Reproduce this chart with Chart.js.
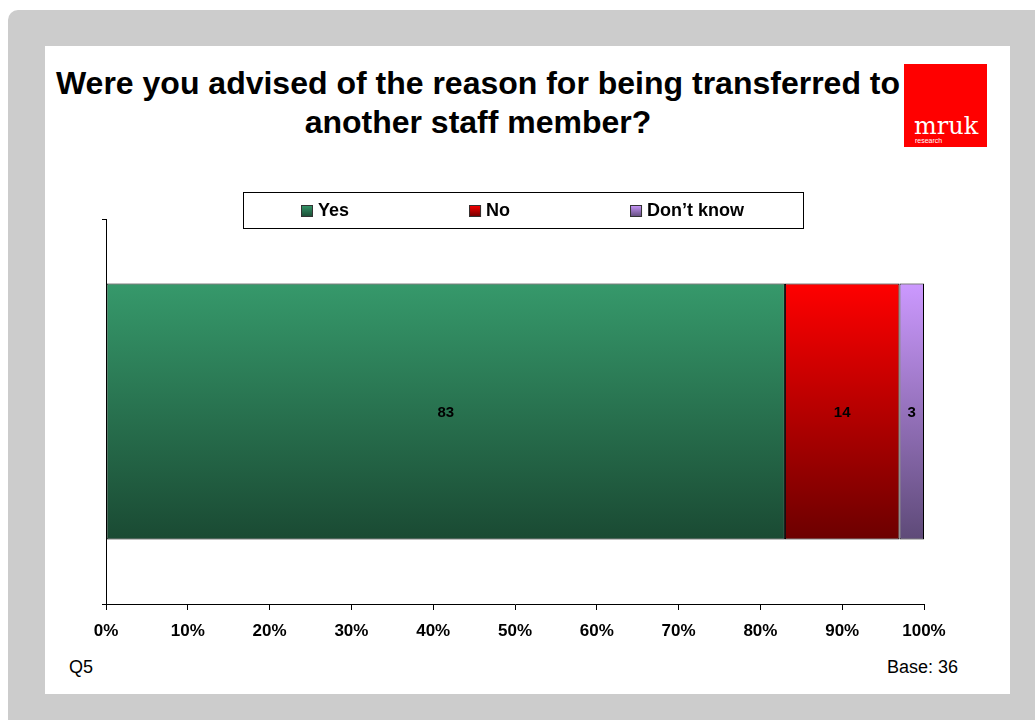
<!DOCTYPE html>
<html>
<head>
<meta charset="utf-8">
<script src="https://cdn.jsdelivr.net/npm/chart.js@4.4.1/dist/chart.umd.min.js"></script>
<style>
    html, body { margin: 0; padding: 0; background: #fff; width: 1035px; height: 720px; overflow: hidden; }
    body { position: relative; font-family: Arial, "Liberation Sans", sans-serif; }
    .frame { position: absolute; left: 8px; top: 10px; width: 1100px; height: 800px; background: #cccccc; border-top-left-radius: 10px; }
    .panel { position: absolute; left: 45px; top: 46px; width: 965px; height: 648px; background: #fff; }
    .title { position: absolute; left: 0; top: 64px; width: 956px; text-align: center; font-weight: bold; font-size: 32px; line-height: 39px; color: #000; }
    .logo { position: absolute; left: 904px; top: 64px; width: 83px; height: 83px; background: #ff0000; color: #fff; }
    .logo .name { position: absolute; left: 10px; top: 50px; font-family: "DejaVu Serif", "Liberation Serif", serif; font-size: 24px; line-height: 24px; }
    .logo .sub { position: absolute; left: 11px; top: 73px; font-size: 7px; line-height: 7px; }
    .note { position: absolute; top: 658px; font-size: 18px; line-height: 18px; color: #000; }
    canvas { position: absolute; left: 0; top: 0; }
</style>
</head>
<body>
<div class="frame"></div>
<div class="panel"></div>
<div class="title">Were you advised of the reason for being transferred to<br>another staff member?</div>
<div class="logo"><span class="name">mruk</span><span class="sub">research</span></div>
<div class="note" style="left:69px">Q5</div>
<div class="note" style="left:887px">Base: 36</div>
<canvas id="chart" width="1035" height="720"></canvas>
<script>
const categories = [''];
const seriesNames = ['Yes', 'No', 'Don\u2019t know'];
const yesValues = [83];
const noValues = [14];
const dontKnowValues = [3];
const tickValues = [0, 10, 20, 30, 40, 50, 60, 70, 80, 90, 100];

// top and bottom colour of each series' vertical gradient
const shades = [
    ['#36996b', '#1a4a33'],
    ['#ff0000', '#6c0000'],
    ['#cc99ff', '#5e4a78']
];

const BAR_SHARE = 0.665;

function barGradient(index) {
    return function (ctx) {
        const chart = ctx.chart;
        const ys = chart.scales.y;
        if (!chart.chartArea || !ys) {
            return shades[index][0];
        }
        const mid = ys.getPixelForValue(0);
        const half = ys.height / categories.length * BAR_SHARE / 2;
        const g = chart.ctx.createLinearGradient(0, mid - half, 0, mid + half);
        g.addColorStop(0, shades[index][0]);
        g.addColorStop(1, shades[index][1]);
        return g;
    };
}

const valueLabels = {
    id: 'valueLabels',
    afterDatasetsDraw(chart) {
        const c = chart.ctx;
        c.save();
        c.font = 'bold 15px Arial, "Liberation Sans", sans-serif';
        c.fillStyle = '#000';
        c.textAlign = 'center';
        c.textBaseline = 'middle';
        chart.data.datasets.forEach(function (ds, i) {
            chart.getDatasetMeta(i).data.forEach(function (bar, j) {
                const p = bar.getProps(['x', 'y', 'base'], true);
                c.fillText(String(ds.data[j]), (p.x + p.base) / 2, p.y + 1);
            });
        });
        c.restore();
    }
};

// boxed legend above the plot
const boxedLegend = {
    id: 'boxedLegend',
    afterDraw(chart) {
        const c = chart.ctx;
        const left = 243, top = 192, width = 560, height = 36;
        const gap = 120, box = 12, textGap = 5;
        c.save();
        c.strokeStyle = '#000';
        c.lineWidth = 1;
        c.strokeRect(left + 0.5, top + 0.5, width, height);
        c.font = 'bold 18px Arial, "Liberation Sans", sans-serif';
        c.textBaseline = 'middle';
        const items = chart.data.datasets.map(function (ds) {
            return { text: ds.label, w: box + textGap + c.measureText(ds.label).width };
        });
        const total = items.reduce(function (s, it) { return s + it.w; }, 0) + gap * (items.length - 1);
        let x = Math.round(left + width / 2 - total / 2);
        const cy = top + height / 2 + 1;
        items.forEach(function (it, i) {
            const by = Math.round(cy - box / 2);
            const g = c.createLinearGradient(0, by, 0, by + box);
            g.addColorStop(0, shades[i][0]);
            g.addColorStop(1, shades[i][1]);
            c.fillStyle = g;
            c.fillRect(x, by, box, box);
            c.strokeStyle = '#333';
            c.strokeRect(x + 0.5, by + 0.5, box - 1, box - 1);
            c.fillStyle = '#000';
            c.fillText(it.text, x + box + textGap, cy);
            x += it.w + gap;
        });
        c.restore();
    }
};

new Chart(document.getElementById('chart'), {
    type: 'bar',
    data: {
        labels: categories,
        datasets: [
            { label: seriesNames[0], data: yesValues, backgroundColor: barGradient(0) },
            { label: seriesNames[1], data: noValues, backgroundColor: barGradient(1) },
            { label: seriesNames[2], data: dontKnowValues, backgroundColor: barGradient(2) }
        ]
    },
    options: {
        indexAxis: 'y',
        responsive: false,
        animation: false,
        devicePixelRatio: 1,
        layout: { padding: { left: 106, right: 111, top: 219, bottom: 66 } },
        datasets: {
            bar: {
                borderColor: '#000',
                borderWidth: 1,
                borderSkipped: false,
                barPercentage: 1,
                categoryPercentage: BAR_SHARE
            }
        },
        plugins: {
            legend: { display: false },
            title: { display: false },
            tooltip: { enabled: false }
        },
        scales: {
            x: {
                type: 'linear',
                stacked: true,
                min: 0,
                max: 100,
                afterBuildTicks: function (scale) {
                    scale.ticks = tickValues.map(function (v) { return { value: v }; });
                },
                afterFit: function (scale) { scale.height = 50; },
                ticks: {
                    color: '#000',
                    padding: 11,
                    font: { family: 'Arial, "Liberation Sans", sans-serif', size: 17, weight: 'bold' },
                    callback: function (v) { return v + '%'; }
                },
                grid: { drawOnChartArea: false, color: '#000', tickLength: 6 },
                border: { color: '#000', width: 1 }
            },
            y: {
                type: 'category',
                stacked: true,
                afterFit: function (scale) { scale.width = 0; },
                ticks: { display: false },
                grid: { drawOnChartArea: false, color: '#000', tickLength: 4, offset: true },
                border: { color: '#000', width: 1 }
            }
        }
    },
    plugins: [valueLabels, boxedLegend]
});
</script>
</body>
</html>
